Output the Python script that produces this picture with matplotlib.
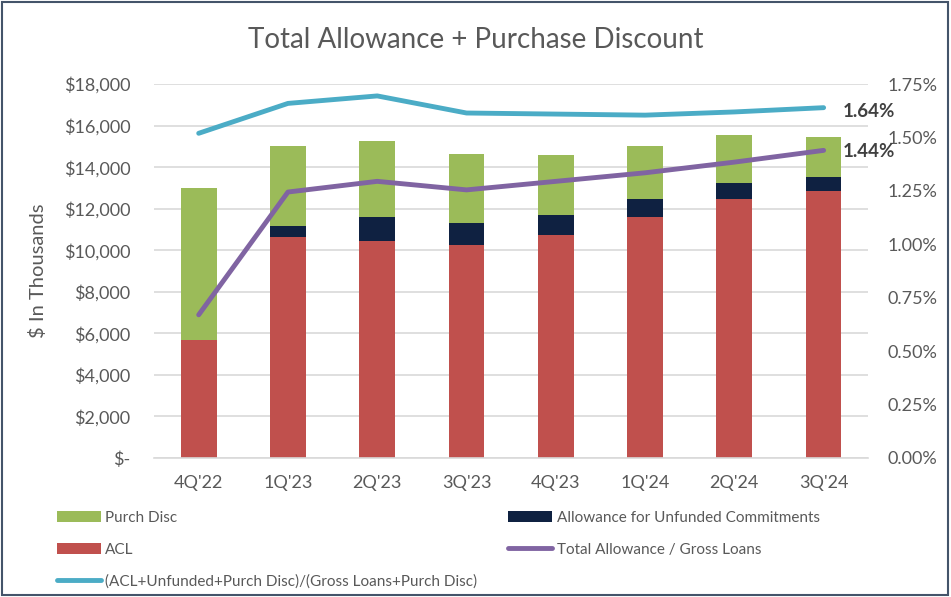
import numpy as np
import matplotlib
matplotlib.use("Agg")
import matplotlib.pyplot as plt
from matplotlib.ticker import FuncFormatter

plt.rcParams['font.family'] = ['Lato', 'DejaVu Sans']

quarters = ["4Q'22", "1Q'23", "2Q'23", "3Q'23", "4Q'23", "1Q'24", "2Q'24", "3Q'24"]
acl = [5700, 10650, 10450, 10250, 10750, 11600, 12450, 12850]
unfunded = [0, 520, 1150, 1050, 950, 880, 800, 700]
purch_disc = [7300, 3830, 3660, 3330, 2880, 2520, 2280, 1890]
ratio_total = [0.67, 1.245, 1.295, 1.255, 1.295, 1.335, 1.385, 1.44]
ratio_adj = [1.52, 1.66, 1.695, 1.615, 1.61, 1.605, 1.62, 1.64]

c_acl = "#C0504D"
c_unf = "#0F2141"
c_pd = "#9BBB59"
c_purple = "#8064A2"
c_cyan = "#4BACC6"
txt = "#595959"

fig = plt.figure(figsize=(9.51, 5.97), dpi=100)
ax = fig.add_axes([0.162, 0.233, 0.751, 0.626])
x = np.arange(len(quarters))
w = 0.4

acl_a = np.array(acl)
unf_a = np.array(unfunded)
pd_a = np.array(purch_disc)
b1 = ax.bar(x, acl_a, w, color=c_acl, label="ACL", zorder=2)
b2 = ax.bar(x, unf_a, w, bottom=acl_a, color=c_unf, label="Allowance for Unfunded Commitments", zorder=2)
b3 = ax.bar(x, pd_a, w, bottom=acl_a + unf_a, color=c_pd, label="Purch Disc", zorder=2)

ax.set_ylim(0, 18000)
ax.set_yticks(np.arange(0, 18001, 2000))
ax.yaxis.set_major_formatter(FuncFormatter(lambda v, p: "$-" if v == 0 else "${:,.0f}".format(v)))
ax.set_xlim(-0.5, len(quarters) - 0.5)
ax.set_xticks(x)
ax.set_xticklabels(quarters)
ax.grid(axis="y", color="#D9D9D9", linewidth=1.2, zorder=0)
ax.set_axisbelow(True)
for s in ["top", "right", "left"]:
    ax.spines[s].set_visible(False)
ax.spines["bottom"].set_color("#D9D9D9")
ax.spines["bottom"].set_linewidth(1.2)
ax.tick_params(axis="y", length=0, labelsize=13, colors=txt, pad=17)
ax.tick_params(axis="x", length=0, labelsize=13, colors=txt, pad=12)
ax.set_ylabel("$ In Thousands", fontsize=14.5, color=txt, labelpad=12)

ax2 = ax.twinx()
ax2.set_ylim(0, 1.75)
ax2.set_yticks(np.arange(0, 1.76, 0.25))
ax2.yaxis.set_major_formatter(FuncFormatter(lambda v, p: "{:.2f}%".format(v)))
for s in ax2.spines.values():
    s.set_visible(False)
ax2.tick_params(axis="y", length=0, labelsize=13, colors=txt, pad=14)

l1, = ax2.plot(x, ratio_adj, color=c_cyan, linewidth=3.5, solid_capstyle="round",
               label="(ACL+Unfunded+Purch Disc)/(Gross Loans+Purch Disc)")
l2, = ax2.plot(x, ratio_total, color=c_purple, linewidth=3.5, solid_capstyle="round",
               label="Total Allowance / Gross Loans")
ax2.annotate("{:.2f}%".format(ratio_adj[-1]), (x[-1], ratio_adj[-1]), xytext=(14, -3),
             textcoords="offset points", fontsize=13.5, fontweight="bold", color="#404040", va="center")
ax2.annotate("{:.2f}%".format(ratio_total[-1]), (x[-1], ratio_total[-1]), xytext=(14, -1),
             textcoords="offset points", fontsize=13.5, fontweight="bold", color="#404040", va="center")

fig.suptitle("Total Allowance + Purchase Discount", fontsize=20, color=txt, y=0.955)

fig.legend([b3, b1, l1, b2, l2],
           [b3.get_label(), b1.get_label(), l1.get_label(), b2.get_label(), l2.get_label()],
           ncol=2, loc="upper left", bbox_to_anchor=(0.045, 0.167), frameon=False,
           fontsize=11, labelcolor=txt, handlelength=2.9, handletextpad=0.3,
           columnspacing=2.0, labelspacing=1.15)

border = plt.Rectangle((0.002, 0.003), 0.995, 0.994, transform=fig.transFigure, fill=False,
                       edgecolor="#44546A", linewidth=1.5)
fig.patches.append(border)

fig.savefig("out.png", dpi=100)
